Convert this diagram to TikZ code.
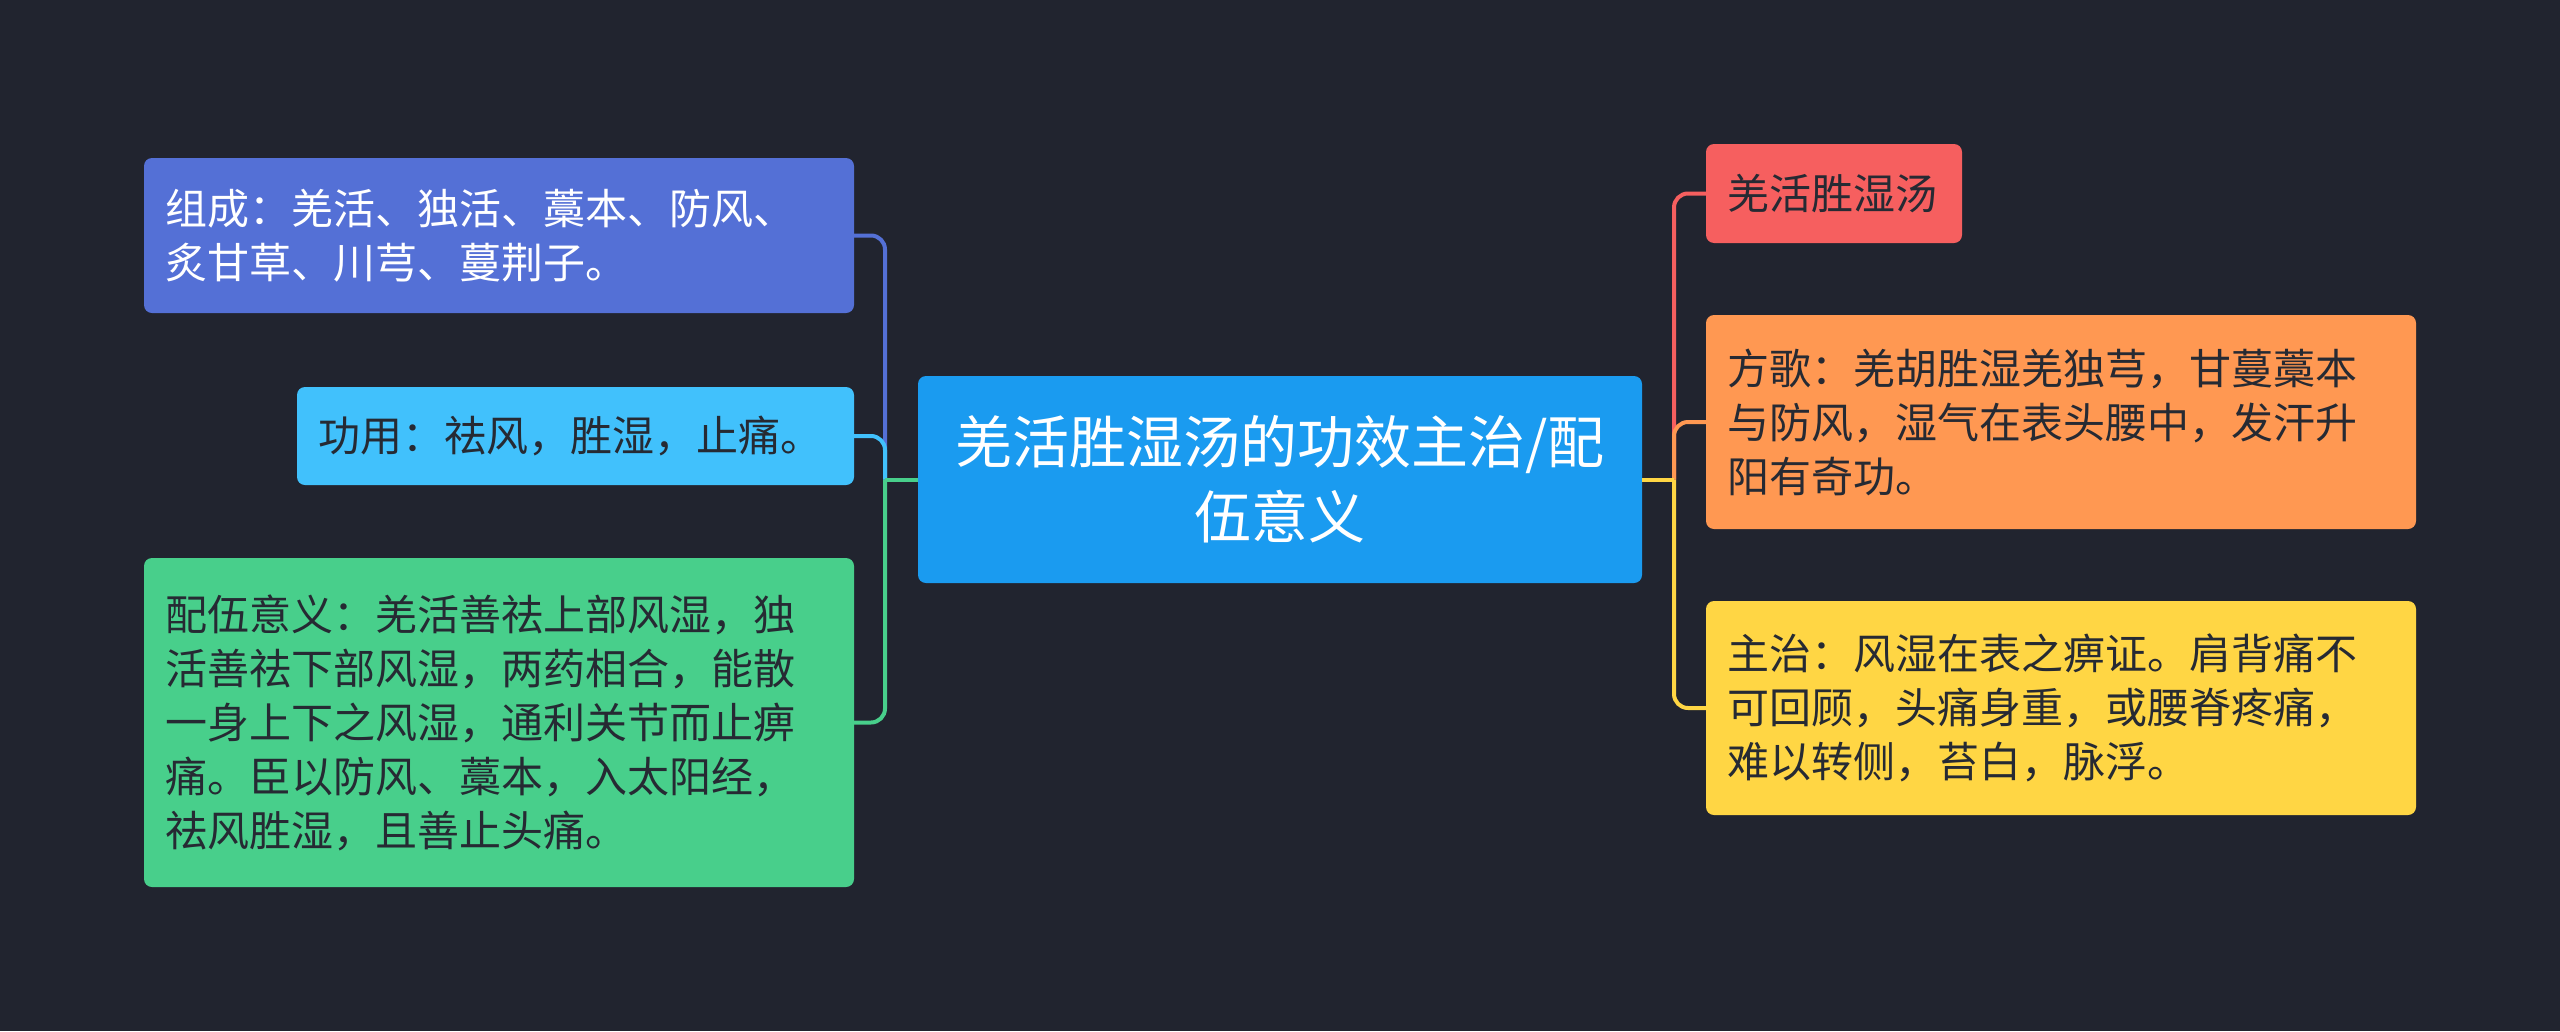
\documentclass[tikz,border=0pt]{standalone}
\usepackage{fontspec}
\newfontfamily\cjk{Noto Sans CJK SC}
\definecolor{bg}{HTML}{21242F}
\definecolor{cA}{HTML}{5470D6}
\definecolor{cB}{HTML}{41C1FC}
\definecolor{cC}{HTML}{48CF8B}
\definecolor{cM}{HTML}{1A9BF0}
\definecolor{cR}{HTML}{F65F5F}
\definecolor{cO}{HTML}{FF9852}
\definecolor{cY}{HTML}{FFD644}
\definecolor{dk}{HTML}{262A33}
\begin{document}
\begin{tikzpicture}[x=1pt,y=-1pt,
  boxstyle/.style={rounded corners=8pt, inner xsep=21pt, inner ysep=0pt, align=left,
    font=\cjk\fontsize{42}{54}\selectfont, text=dk},
  mainbox/.style={rounded corners=8pt, inner sep=0pt, align=center,
    font=\cjk\fontsize{57}{75}\selectfont, text=white, fill=cM,
    minimum width=724pt, minimum height=207pt},
  link/.style={line width=4pt, rounded corners=14pt},
  stem/.style={line width=4pt}]
\fill[bg] (0,0) rectangle (2560,1031);
\useasboundingbox (0,0) rectangle (2560,1031);

\node[mainbox] (center) at (1280,479.5) {羌活胜湿汤的功效主治/配\\伍意义};

\node[boxstyle, fill=cA, text=white, text width=668pt, minimum height=155pt] (zc) at (499,235.5)
  {组成：羌活、独活、藁本、防风、\\炙甘草、川芎、蔓荆子。};
\node[boxstyle, fill=cB, text width=515pt, minimum height=98pt] (gy) at (575.5,436)
  {功用：祛风，胜湿，止痛。};
\node[boxstyle, fill=cC, text width=668pt, minimum height=329pt] (pw) at (499,722.5)
  {配伍意义：羌活善祛上部风湿，独\\活善祛下部风湿，两药相合，能散\\一身上下之风湿，通利关节而止痹\\痛。臣以防风、藁本，入太阳经，\\祛风胜湿，且善止头痛。};

\node[boxstyle, fill=cR, text width=214pt, minimum height=99pt] (name) at (1834,193.5)
  {羌活胜湿汤};
\node[boxstyle, fill=cO, text width=668pt, minimum height=214pt] (fg) at (2061,422)
  {方歌：羌胡胜湿羌独芎，甘蔓藁本\\与防风，湿气在表头腰中，发汗升\\阳有奇功。};
\node[boxstyle, fill=cY, text width=668pt, minimum height=214pt] (zz) at (2061,708)
  {主治：风湿在表之痹证。肩背痛不\\可回顾，头痛身重，或腰脊疼痛，\\难以转侧，苔白，脉浮。};

\coordinate (lj) at (885,479.5);
\coordinate (rj) at (1674,479.5);

\draw[link, cA] (lj) |- (zc.east);
\draw[link, cB] (lj) |- (gy.east);
\draw[link, cC] (lj) |- (pw.east);
\draw[stem, cC] (center.west) -- (lj);

\draw[link, cR] (rj) |- (name.west);
\draw[link, cO] (rj) |- (fg.west);
\draw[link, cY] (rj) |- (zz.west);
\draw[stem, cY] (center.east) -- (rj);
\end{tikzpicture}
\end{document}
